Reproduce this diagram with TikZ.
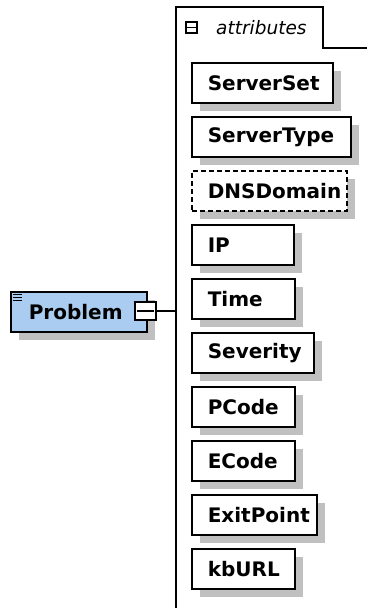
\documentclass[tikz,border=0pt]{standalone}
\usepackage{fontspec}
\setsansfont{DejaVu Sans}
\usetikzlibrary{shadows}
\definecolor{shadowgray}{RGB}{192,192,192}
\definecolor{elemblue}{RGB}{170,204,240}
\tikzset{
  boxline/.style={draw=black, line width=1.6pt},
  shadowed/.style={general shadow={fill=shadowgray, shadow xshift=8pt, shadow yshift=-8pt}},
  attr/.style={boxline, shadowed, fill=white, minimum height=40pt, inner xsep=16pt, inner ysep=0pt,
    font=\sffamily\bfseries\fontsize{20}{22}\selectfont, anchor=north west},
  optattr/.style={attr, dash pattern=on 5pt off 3pt},
  elem/.style={boxline, shadowed, fill=elemblue, minimum height=40pt, inner xsep=18pt, inner ysep=0pt,
    font=\sffamily\bfseries\fontsize{20}{22}\selectfont, anchor=north west},
  minusbox/.style={draw=black, line width=1.3pt, fill=white, inner sep=0pt},
  conn/.style={draw=black, line width=1.6pt}
}
\newcommand\abox[5][attr]{\node[#1] (#2) at (191,#3) {\makebox[\dimexpr#4pt-32pt\relax][l]{#5}};}
\begin{document}
\begin{tikzpicture}[x=1pt,y=-1pt]
\useasboundingbox (0,0) rectangle (367,608);
% group tab and spine
\coordinate (spinetop) at (176,7);
\coordinate (spinebot) at (176,608);
\coordinate (tabr) at (323,7);
\coordinate (tabb) at (323,48);
\coordinate (tabend) at (367,48);
\draw[conn] (spinebot) -- (spinetop) -- (tabr) -- (tabb) -- (tabend);
\node[minusbox, minimum width=11pt, minimum height=11pt] (tabminus) at (191.5,27.5) {};
\draw[line width=1.2pt] ([xshift=2pt]tabminus.west) -- ([xshift=-2pt]tabminus.east);
\node[anchor=west, inner sep=0pt, font=\sffamily\itshape\fontsize{18.5}{20}\selectfont] (tablabel) at (216,28) {attributes};
% attributes
\abox{ServerSet}{62}{141}{ServerSet}
\abox{ServerType}{116}{159}{ServerType}
\abox[optattr]{DNSDomain}{170}{155}{DNSDomain}
\abox{IP}{224}{102}{IP}
\abox{Time}{278}{103}{Time}
\abox{Severity}{332}{122}{Severity}
\abox{PCode}{386}{103}{PCode}
\abox{ECode}{440}{103}{ECode}
\abox{ExitPoint}{494}{125}{ExitPoint}
\abox{kbURL}{548}{103}{kbURL}
% element
\node[elem, minimum width=136pt] (Problem) at (10,291) {\makebox[100pt][l]{Problem}};
\draw[line width=1pt] (13,294) -- (22,294) (13,297) -- (22,297) (13,300) -- (22,300);
\node[minusbox, minimum width=21pt, minimum height=18pt] (pminus) at (145.5,311) {};
\draw[line width=1.2pt] ([xshift=3pt]pminus.west) -- ([xshift=-3pt]pminus.east);
\coordinate (join) at (176,311);
\draw[conn] (pminus.east) -- (join);
\end{tikzpicture}
\end{document}
